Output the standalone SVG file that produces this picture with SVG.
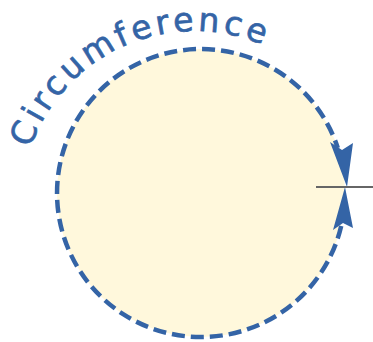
<svg xmlns="http://www.w3.org/2000/svg" width="373" height="342" viewBox="0 0 373 342">
<style>
.fill{fill:#fff8dc;stroke:none}
.dash{fill:none;stroke:#3464a6;stroke-width:4.5;stroke-dasharray:13 6}
.head{fill:#3464a6;stroke:none}
.tick{stroke:#666;stroke-width:2.2}
.lbl{font-family:"DejaVu Sans",sans-serif;font-size:33px;fill:#3464a6;stroke:#3464a6;stroke-width:0.7}
</style>
<defs>
<path id="textArc" d="M 30.5 148.3 A 174 174 0 0 1 268.5 47.3"/>
</defs>
<g id="circle">
<circle class="fill" cx="201" cy="193" r="144"/>
</g>
<g id="connectors">
<path class="dash" d="M 341.2 226 A 144 144 0 1 1 337.8 148"/>
<polygon class="head" points="330,142 342,150 353,143 347,187"/>
<polygon class="head" points="333,230 343,223 353,228 345,187"/>
<line class="tick" x1="316" y1="187" x2="373" y2="187"/>
</g>
<g id="label">
<text class="lbl"><textPath href="#textArc" textLength="285" lengthAdjust="spacing">Circumference</textPath></text>
</g>
</svg>
